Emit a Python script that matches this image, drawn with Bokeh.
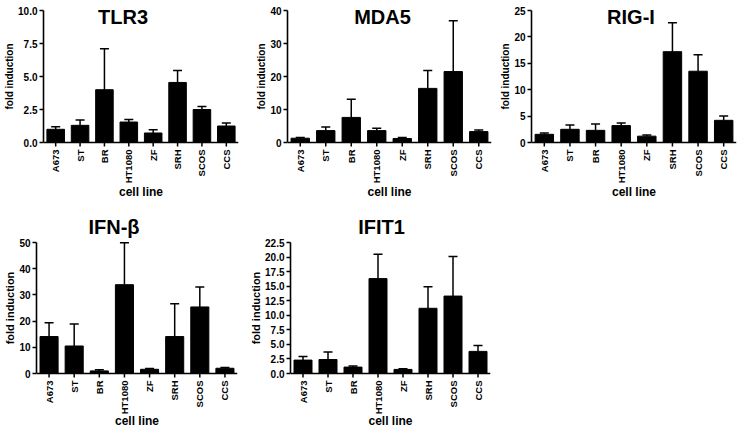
from math import pi
from bokeh.plotting import figure
from bokeh.models import (ColumnDataSource, Whisker, TeeHead, FixedTicker,
                          PrintfTickFormatter, Label, Range1d, FactorRange, Span,
                          Title)
from bokeh.layouts import column, row
from bokeh.embed import file_html
from bokeh.resources import INLINE

# ---------------- data ----------------
cells = ["A673", "ST", "BR", "HT1080", "ZF", "SRH", "SCOS", "CCS"]

tlr3 = [1.0, 1.3, 4.0, 1.55, 0.72, 4.55, 2.5, 1.25]
tlr3_err = [0.2, 0.4, 3.1, 0.2, 0.25, 0.9, 0.22, 0.22]
tlr3_ticks = [0, 2.5, 5.0, 7.5, 10.0]

mda5 = [1.3, 3.6, 7.6, 3.6, 1.2, 16.4, 21.5, 3.3]
mda5_err = [0.2, 1.1, 5.5, 0.7, 0.3, 5.4, 15.4, 0.5]
mda5_ticks = [0, 10, 20, 30, 40]

rigi = [1.55, 2.5, 2.3, 3.2, 1.2, 17.2, 13.5, 4.2]
rigi_err = [0.25, 0.8, 1.2, 0.5, 0.2, 5.5, 3.1, 0.8]
rigi_ticks = [0, 5, 10, 15, 20, 25]

ifnb = [14.1, 10.5, 1.0, 33.9, 1.6, 14.1, 25.4, 2.0]
ifnb_err = [5.3, 8.4, 0.4, 16.0, 0.3, 12.5, 7.6, 0.3]
ifnb_ticks = [0, 10, 20, 30, 40, 50]

ifit1 = [2.3, 2.4, 1.1, 16.3, 0.7, 11.2, 13.3, 3.8]
ifit1_err = [0.6, 1.3, 0.2, 4.2, 0.1, 3.7, 6.8, 1.0]
ifit1_ticks = [0, 2.5, 5.0, 7.5, 10.0, 12.5, 15.0, 17.5, 20.0, 22.5]

FONT = "Liberation Sans"


def panel(title, vals, errs, ticks, fmt, width, height, left, right,
          pad_top, span, title_dx, title_dy, ylab_size, cl_off):
    frame_h = height
    ymax = ticks[-1]
    ppu = span / ymax
    below = frame_h - pad_top - span
    ystart = -below / ppu
    yend = ymax + pad_top / ppu
    src = ColumnDataSource(dict(cells=cells, vals=vals,
                                upper=[v + e for v, e in zip(vals, errs)],
                                zero=[0] * len(cells)))
    p = figure(x_range=FactorRange(factors=cells),
               y_range=Range1d(ystart, yend),
               width=width, height=height, min_border_left=left,
               min_border_right=right, min_border_top=0,
               min_border_bottom=0, output_backend="svg",
               toolbar_location=None, tools="")
    p.vbar(x="cells", top="vals", width=0.72, source=src,
           fill_color="black", line_color="black")
    w = Whisker(source=src, base="cells", lower="vals", upper="upper",
                dimension="height", line_color="black", line_width=1.5,
                upper_head=TeeHead(size=9, line_color="black", line_width=1.5),
                lower_head=None, level="glyph")
    p.add_layout(w)
    p.xgrid.visible = False
    p.ygrid.visible = False
    p.outline_line_color = None
    p.background_fill_color = "white"
    p.border_fill_color = "white"

    # x axis: baseline, ticks and rotated labels at y = 0
    p.xaxis.visible = False
    p.add_layout(Span(location=0, dimension="width", line_color="black",
                      line_width=1.6))
    p.scatter(x="cells", y="zero", source=src, marker="dash", angle=pi / 2,
              size=8, line_color="black", line_width=1.5)
    for i, c in enumerate(cells):
        p.add_layout(Label(x=i + 0.5, y=0, text=c, angle=pi / 2,
                           text_align="right", text_baseline="middle",
                           y_offset=-7,
                           text_font=FONT, text_font_style="bold",
                           text_font_size="9.5px", text_color="black"))
    p.add_layout(Label(x=len(cells) / 2, y=0, text="cell line",
                       text_align="center", text_baseline="middle",
                       y_offset=-cl_off, text_font=FONT,
                       text_font_style="bold", text_font_size="12px",
                       text_color="black"))

    ya = p.yaxis[0]
    ya.axis_line_width = 1.6
    ya.axis_line_color = "black"
    ya.major_tick_line_width = 1.5
    ya.major_tick_line_color = "black"
    ya.major_tick_out = 4
    ya.major_tick_in = 0
    ya.minor_tick_out = 0
    ya.minor_tick_in = 0
    ya.major_label_text_font = FONT
    ya.major_label_text_font_style = "bold"
    ya.major_label_text_font_size = "10px"
    ya.major_label_text_color = "black"
    ya.major_label_standoff = 2
    ya.ticker = FixedTicker(ticks=ticks)
    ya.formatter = PrintfTickFormatter(format=fmt)
    ya.bounds = (0, ymax)
    # axis title centred on the 0..max span: start it above the frame bottom
    text_len = 6.611 * ylab_size
    off = (frame_h - pad_top - span / 2) - text_len / 2
    p.add_layout(Title(text="fold induction", align="left", offset=off,
                       text_font=FONT, text_font_style="bold",
                       text_font_size=f"{ylab_size}px", text_color="black",
                       standoff=2), "left")

    p.add_layout(Label(x=len(cells) / 2, y=yend, text=title,
                       text_align="center", text_baseline="top",
                       x_offset=title_dx, y_offset=-title_dy,
                       text_font=FONT, text_font_style="bold",
                       text_font_size="20px", text_color="black"))
    return p


p1 = panel("TLR3", tlr3, tlr3_err, tlr3_ticks, "%.1f",
           252, 199, 38, 14, 10, 132, -18, 5, 10, 49)
p2 = panel("MDA5", mda5, mda5_err, mda5_ticks, "%d",
           243, 199, 33, 4, 10, 132, -7, 5, 10, 49)
p3 = panel("RIG-I", rigi, rigi_err, rigi_ticks, "%d",
           243, 199, 36, 2, 10, 132, -3, 5, 10, 49)
p4 = panel("IFN-β", ifnb, ifnb_err, ifnb_ticks, "%d",
           246, 229, 35, 9, 43, 131, -23, 16, 11, 47)
p5 = panel("IFIT1", ifit1, ifit1_err, ifit1_ticks, "%.1f",
           248, 229, 37, 4, 43, 131, -9, 16, 11, 47)

layout = column(row(p1, p2, p3), row(p4, p5))
open("out.html", "w").write(file_html(layout, INLINE))
